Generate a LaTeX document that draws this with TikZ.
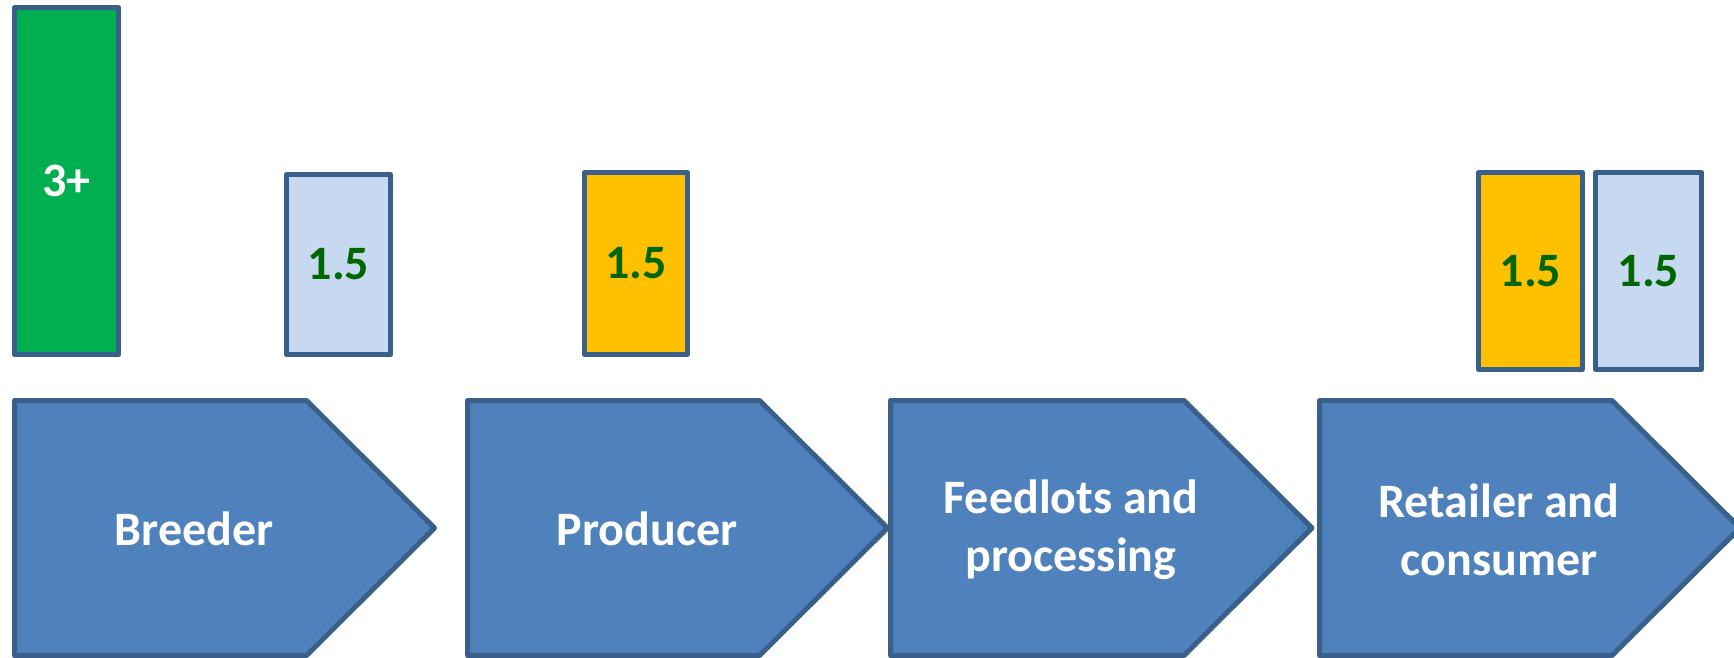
\documentclass[tikz,border=0pt]{standalone}
\usepackage{fontspec}
\setmainfont{Carlito}
\definecolor{edge}{HTML}{3A5F8B}
\definecolor{arrowfill}{HTML}{4F81BD}
\definecolor{barGreen}{HTML}{00B050}
\definecolor{barYellow}{HTML}{FFC000}
\definecolor{barBlue}{HTML}{C6D9F1}
\definecolor{numGreen}{HTML}{006600}
\begin{document}
\begin{tikzpicture}[x=1pt,y=-1pt,
  bar/.style={draw=edge,line width=5pt,line join=round,rectangle,inner sep=0pt,
    font=\fontsize{48}{50}\selectfont\bfseries,text=numGreen},
  stage/.style={draw=edge,fill=arrowfill,line width=5pt,line join=round},
  stagetext/.style={text=white,align=center,font=\fontsize{48}{58}\selectfont\bfseries}]
\useasboundingbox (0,0) rectangle (1734,658);
% value bars
\node[bar,fill=barGreen,text=white,minimum width=104pt,minimum height=347pt] (b3) at (66.5,181) {3+};
\node[bar,fill=barBlue,minimum width=104pt,minimum height=180pt] (bb1) at (338.5,264.5) {1.5};
\node[bar,fill=barYellow,minimum width=103pt,minimum height=182pt] (by1) at (636,263.5) {1.5};
\node[bar,fill=barYellow,minimum width=104pt,minimum height=197pt] (by2) at (1530.5,271) {1.5};
\node[bar,fill=barBlue,minimum width=106pt,minimum height=197pt] (bb2) at (1648.5,271) {1.5};
% stage arrows
\foreach \L/\T in {14.5/434.5, 467.5/887.5, 890.5/1312, 1319.5/1740}{
  \draw[stage] (\L,400.5) -- (\T-128,400.5) -- (\T,528) -- (\T-128,655.5) -- (\L,655.5) -- cycle;
}
\node[stagetext] (s1) at (194,529) {Breeder};
\node[stagetext] (s2) at (647,529) {Producer};
\node[stagetext] (s3) at (1071,530) {Feedlots and\\processing};
\node[stagetext] (s4) at (1499,530) {Retailer and\\consumer};
\end{tikzpicture}
\end{document}
